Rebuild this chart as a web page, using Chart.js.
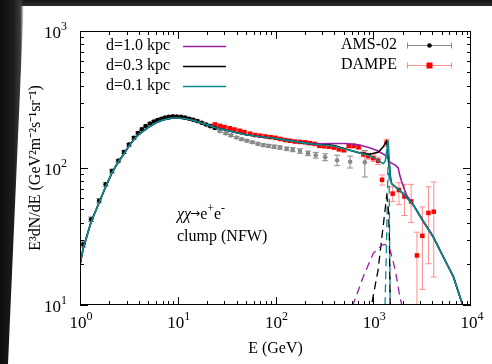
<!DOCTYPE html>
<html>
<head>
<meta charset="utf-8">
<script src="https://cdn.jsdelivr.net/npm/chart.js@4.4.1/dist/chart.umd.min.js"></script>
<style>
    html, body { margin: 0; background: #fff; }
    #wrap { position: relative; width: 492px; height: 364px; overflow: hidden; background: #fff; }
    #shadeTop { position: absolute; left: 0; top: 0; width: 492px; height: 6px; background: linear-gradient(#141414, #2b2b2b); }
    #shadeLeft { position: absolute; left: 0; top: 0; width: 24px; height: 364px;
        background: linear-gradient(90deg, #0e0e0e 0%, #1c1c1c 55%, #3c3c3c 85%, rgba(255,255,255,0) 100%);
        clip-path: polygon(0 0, 24px 0, 8px 364px, 0 364px); }
    canvas { position: absolute; left: 0; top: 0; }
</style>
</head>
<body>
<div id="wrap">
    <div id="shadeTop"></div>
    <div id="shadeLeft"></div>
    <canvas id="grafico" width="492" height="364"></canvas>
</div>
<script>
// Shared background part of the three model curves (E in GeV)
const lowE    = [1, 1.08, 1.3, 1.57, 1.83, 2.12, 2.47, 2.82, 3.17, 3.57, 4, 5, 6, 7, 8, 9, 10, 12, 15, 20, 25, 30, 40, 50, 70, 100, 150, 200];
const lowFlux = [19.6, 26, 40.5, 56, 73, 92, 111, 127, 145, 162, 176, 198, 214, 224, 229, 232, 232, 229, 221, 207, 196, 190, 181, 175, 169, 164, 157, 152];

// Tails of the total spectra
const d10E    = [250, 300, 350, 400, 530, 720, 900, 1090, 1250, 1370, 1490, 1680, 1800, 1870, 1960, 2080, 2200, 2560, 3270, 4100, 5200, 6600, 8100, 9000];
const d10Flux = [150, 150.5, 151, 151, 151, 147, 141, 134, 127, 122, 110, 105, 100, 88, 79, 70, 63, 54, 40.5, 31.5, 22.5, 16.1, 10.3, 8];
const d03E    = [250, 300, 350, 400, 530, 720, 920, 1120, 1260, 1370, 1400, 1450, 1500, 1540, 2030, 2560, 3270, 4100, 5200, 6600, 8100, 9000];
const d03Flux = [149, 148, 147, 146, 137, 129, 126, 130, 142, 157, 145, 110, 85, 77, 65, 54, 40.5, 31.5, 22.5, 16.1, 10.3, 8];
const d01E    = [250, 300, 350, 400, 500, 680, 850, 1000, 1170, 1270, 1330, 1380, 1420, 1450, 1500, 1540, 2030, 2560, 3270, 4100, 5200, 6600, 8100, 9000];
const d01Flux = [149, 147, 146, 144, 138, 131, 125, 120, 111, 108, 113, 135, 158, 120, 85, 77, 65, 54, 40.5, 31.5, 22.5, 16.1, 10.3, 8];

// Clump contributions (dashed)
const c10E    = [550, 620, 790, 1000, 1230, 1320, 1490, 1680, 1870, 1960, 2050];
const c10Flux = [8, 10, 16.1, 23.8, 27.4, 27.7, 25.2, 18, 11.5, 10, 8.8];
const c03E    = [900, 960, 1120, 1260, 1370, 1420, 1460, 1490, 1510];
const c03Flux = [8.5, 10, 18, 37, 62, 54, 33, 10, 8];
const c01E    = [1300, 1320, 1370, 1410, 1430, 1450, 1480, 1490, 1500];
const c01Flux = [8, 10, 30, 95, 140, 95, 20, 10, 8];

// AMS-02
const amsE    = [1.08, 1.3, 1.57, 1.83, 2.12, 2.47, 2.82, 3.17, 3.57, 3.92, 4.3, 4.7, 5.2, 5.7, 6.2, 6.8, 7.4, 8.1, 8.9, 9.8,
                 10.8, 11.9, 13.1, 14.4, 15.9, 17.6, 19.5, 21.6, 24, 27, 31, 35, 40, 45, 51, 58, 66, 75, 85,
                 97, 111, 130, 150, 178, 215, 258, 322, 427, 580, 820];
const amsFlux = [27.7, 42.3, 57.7, 76, 95, 113, 131, 148, 166, 180, 192, 202, 211, 218, 224, 229, 233, 236, 238, 237,
                 236, 233, 229, 225, 220, 214, 208, 202, 196, 186, 179, 173, 167, 162, 158, 154, 150, 147, 145,
                 143, 141, 138, 136, 133, 128, 124, 120, 114, 111, 110];
const amsErr  = [1.2, 1.6, 2, 2.5, 3, 3, 3.5, 3.5, 4, 4, 4, 4, 4, 4, 4, 4, 4, 4, 4, 4,
                 4, 4, 4, 4, 4, 4, 4, 4, 4, 3, 3, 3, 3, 3, 3, 3, 3, 3.5, 3.5,
                 4, 4, 4, 4.5, 5, 5, 6, 7, 10, 11, 24];

// DAMPE
const dampeE    = [24, 27, 30, 34, 38, 43, 48, 55, 62, 70, 79, 89, 100, 112, 126, 141, 158, 178, 200, 224,
                   251, 282, 316, 355, 398, 447, 501, 562, 631, 708, 794, 891, 1000, 1122, 1230, 1370, 1580, 1830, 2085, 2440,
                   2800, 3180, 3670, 4160];
const dampeFlux = [208, 203, 199, 195, 191, 187, 183, 178, 174, 172, 170, 168, 166, 163, 160, 158, 156, 155, 154, 152,
                   150, 145, 144, 143, 141, 137, 135, 145, 145, 142, 126, 122, 118, 113, 82, 153, 65, 69, 62, 57,
                   23, 32, 47, 48];
const dampeLo   = [3, 3, 3, 3, 3, 3, 3, 3, 3, 3, 3, 3, 3, 3, 3, 3, 3, 3, 3, 3,
                   3, 3, 3, 3, 3.5, 3.5, 4, 4.5, 5, 5, 5.5, 6, 6.5, 7, 7, 9, 8, 15, 17, 17,
                   20, 19, 27, 32];
const dampeHi   = [3, 3, 3, 3, 3, 3, 3, 3, 3, 3, 3, 3, 3, 3, 3, 3, 3, 3, 3, 3,
                   3, 3, 3, 3, 3.5, 3.5, 4, 4.5, 5, 5, 5.5, 6, 6.5, 7, 7, 9, 8, 9, 14, 19,
                   11, 20, 26, 31];

// Axis ticks (labels are 10^exponent)
const xTicks = [1, 10, 100, 1000, 10000];
const yTicks = [10, 100, 1000];

const PURPLE = '#9a1ea6';
const TEAL = '#0c8c8c';
const SERIF = '"Liberation Serif", "Times New Roman", serif';

function pts(xs, ys) {
    return xs.map((v, i) => ({x: v, y: ys[i]}));
}

// Draws "base" with a raised "sup" part, returns the end x
function supText(ctx, base, sup, x, y, size) {
    ctx.font = size + 'px ' + SERIF;
    ctx.fillText(base, x, y);
    x += ctx.measureText(base).width;
    ctx.font = Math.round(size * 0.72) + 'px ' + SERIF;
    ctx.fillText(sup, x, y - size * 0.45);
    return x + ctx.measureText(sup).width;
}

function supWidth(ctx, base, sup, size) {
    ctx.font = size + 'px ' + SERIF;
    let w = ctx.measureText(base).width;
    ctx.font = Math.round(size * 0.72) + 'px ' + SERIF;
    return w + ctx.measureText(sup).width;
}

// Error bars for the data sets
const errorBars = {
    id: 'errorBars',
    beforeDatasetsDraw(chart) {
        const {ctx, chartArea: a, scales: {x, y}} = chart;
        ctx.save();
        ctx.beginPath();
        ctx.rect(a.left, a.top, a.right - a.left, a.bottom - a.top);
        ctx.clip();
        ctx.lineWidth = 1;
        chart.data.datasets.forEach(ds => {
            if (!ds.errLo) return;
            ctx.strokeStyle = ds.errColor;
            ds.data.forEach((p, i) => {
                let px = x.getPixelForValue(p.x);
                let top = y.getPixelForValue(p.y + ds.errHi[i]);
                let bot = y.getPixelForValue(Math.max(p.y - ds.errLo[i], 1));
                ctx.beginPath();
                ctx.moveTo(px, top); ctx.lineTo(px, bot);
                ctx.moveTo(px - 3, top); ctx.lineTo(px + 3, top);
                ctx.moveTo(px - 3, bot); ctx.lineTo(px + 3, bot);
                ctx.stroke();
            });
        });
        ctx.restore();
    }
};

// Frame with inward ticks on all four sides, plus the tick labels
const frame = {
    id: 'frame',
    afterDatasetsDraw(chart) {
        const {ctx, chartArea: a, scales: {x, y}} = chart;
        ctx.save();
        ctx.strokeStyle = '#000';
        ctx.lineWidth = 1;
        ctx.beginPath();
        for (let d = 0; d < 4; d++) {
            for (let k = 1; k < 10; k++) {
                let px = Math.round(x.getPixelForValue(k * Math.pow(10, d))) + 0.5;
                let len = k === 1 ? 8 : 4;
                ctx.moveTo(px, a.bottom); ctx.lineTo(px, a.bottom - len);
                ctx.moveTo(px, a.top); ctx.lineTo(px, a.top + len);
            }
        }
        for (let d = 1; d < 3; d++) {
            for (let k = 1; k < 10; k++) {
                let py = Math.round(y.getPixelForValue(k * Math.pow(10, d))) + 0.5;
                let len = k === 1 ? 8 : 4;
                ctx.moveTo(a.left, py); ctx.lineTo(a.left + len, py);
                ctx.moveTo(a.right, py); ctx.lineTo(a.right - len, py);
            }
        }
        ctx.stroke();
        ctx.strokeRect(Math.round(a.left) + 0.5, Math.round(a.top) + 0.5, Math.round(a.right - a.left) - 1, Math.round(a.bottom - a.top) - 1);

        ctx.fillStyle = '#000';
        ctx.textAlign = 'left';
        ctx.textBaseline = 'alphabetic';
        x.ticks.forEach(t => {
            let e = String(Math.round(Math.log10(t.value)));
            let w = supWidth(ctx, '10', e, 17);
            supText(ctx, '10', e, x.getPixelForValue(t.value) - w / 2 + 1, a.bottom + 23, 17);
        });
        y.ticks.forEach(t => {
            let e = String(Math.round(Math.log10(t.value)));
            let w = supWidth(ctx, '10', e, 17);
            supText(ctx, '10', e, a.left - 13 - w, y.getPixelForValue(t.value) + 7, 17);
        });
        ctx.restore();
    }
};

// Legend blocks and the annotation text
const keys = {
    id: 'keys',
    afterDraw(chart) {
        const {ctx} = chart;
        ctx.save();
        ctx.font = '16px ' + SERIF;
        ctx.fillStyle = '#000';
        ctx.textBaseline = 'middle';
        let row = 0;
        chart.data.datasets.forEach(ds => {
            if (ds.key !== 'line') return;
            let yy = 46 + row * 20;
            ctx.textAlign = 'left';
            ctx.fillText(ds.label, 106, yy);
            ctx.strokeStyle = ds.borderColor;
            ctx.lineWidth = 1.5;
            ctx.beginPath();
            ctx.moveTo(183, yy + 0.5); ctx.lineTo(226, yy + 0.5);
            ctx.stroke();
            row++;
        });
        row = 0;
        chart.data.datasets.forEach(ds => {
            if (ds.key !== 'data') return;
            let yy = 45 + row * 20;
            ctx.textAlign = 'right';
            ctx.fillStyle = '#000';
            ctx.fillText(ds.label, 397, yy);
            ctx.strokeStyle = ds.errColor;
            ctx.lineWidth = 1;
            ctx.beginPath();
            ctx.moveTo(407, yy + 0.5); ctx.lineTo(452, yy + 0.5);
            ctx.moveTo(407.5, yy - 2.5); ctx.lineTo(407.5, yy + 3.5);
            ctx.moveTo(451.5, yy - 2.5); ctx.lineTo(451.5, yy + 3.5);
            ctx.stroke();
            ctx.fillStyle = ds.keyColor;
            if (ds.pointStyle === 'rect') {
                ctx.fillRect(426.5, yy - 2.5, 6, 6);
            } else {
                ctx.beginPath();
                ctx.arc(429.5, yy + 0.5, 2.3, 0, Math.PI * 2);
                ctx.fill();
            }
            row++;
        });

        // χχ→e+e- / clump (NFW)
        ctx.fillStyle = '#000';
        ctx.textAlign = 'left';
        ctx.textBaseline = 'alphabetic';
        ctx.font = 'italic 16px ' + SERIF;
        ctx.fillText('χχ', 177, 219);
        let cx = 177 + ctx.measureText('χχ').width;
        ctx.font = '12px "DejaVu Sans"';
        let aw = ctx.measureText('→').width;
        ctx.fillText('→', cx - 1, 217);
        cx += aw - 1;
        cx = supText(ctx, 'e', '+', cx, 219, 16);
        supText(ctx, 'e', '-', cx, 219, 16);
        ctx.font = '16px ' + SERIF;
        ctx.fillText('clump (NFW)', 177, 241);
        ctx.restore();
    }
};

function lineSet(label, xs, ys, color, dashed, order) {
    return {
        label: label,
        data: pts(xs, ys),
        borderColor: color,
        borderWidth: dashed ? 1.3 : 1.6,
        borderDash: dashed ? [8, 5] : [],
        pointRadius: 0,
        tension: 0,
        fill: false,
        order: order,
        key: dashed ? null : 'line'
    };
}

Chart.defaults.font.family = SERIF;
Chart.defaults.font.size = 16;
Chart.defaults.color = '#000';

let amsColors = amsE.map(e => e < 25 ? '#000000' : '#8a8a8a');

let grafico = new Chart(document.getElementById('grafico'), {
    type: 'line',
    data: {
        datasets: [
            lineSet('d=1.0 kpc', lowE.concat(d10E), lowFlux.concat(d10Flux), PURPLE, false, 3),
            lineSet('d=0.3 kpc', lowE.concat(d03E), lowFlux.concat(d03Flux), '#000000', false, 2),
            lineSet('d=0.1 kpc', lowE.concat(d01E), lowFlux.concat(d01Flux), TEAL, false, 1),
            lineSet('clump d=1.0', c10E, c10Flux, PURPLE, true, 4),
            lineSet('clump d=0.3', c03E, c03Flux, '#000000', true, 4),
            lineSet('clump d=0.1', c01E, c01Flux, TEAL, true, 4),
            {
                label: 'AMS-02',
                data: pts(amsE, amsFlux),
                showLine: false,
                pointStyle: 'circle',
                pointRadius: 2.3,
                pointBorderWidth: 0,
                pointBackgroundColor: amsColors,
                errLo: amsErr,
                errHi: amsErr,
                errColor: '#8a8a8a',
                keyColor: '#000000',
                order: 5,
                key: 'data'
            },
            {
                label: 'DAMPE',
                data: pts(dampeE, dampeFlux),
                showLine: false,
                pointStyle: 'rect',
                pointRadius: 3.2,
                pointBorderWidth: 0,
                pointBackgroundColor: '#ff0000',
                errLo: dampeLo,
                errHi: dampeHi,
                errColor: '#ff8c8c',
                keyColor: '#ff0000',
                order: 5,
                key: 'data'
            }
        ]
    },
    options: {
        responsive: true,
        maintainAspectRatio: false,
        animation: false,
        layout: {
            padding: {left: 0, top: 31, right: 21, bottom: 0}
        },
        plugins: {
            legend: {display: false},
            tooltip: {enabled: false}
        },
        scales: {
            x: {
                type: 'logarithmic',
                min: 1,
                max: 10000,
                grid: {display: false, drawTicks: false},
                border: {display: false},
                afterBuildTicks: s => { s.ticks = xTicks.map(v => ({value: v})); },
                afterFit: s => { s.height = 59; },
                ticks: {display: false, autoSkip: false},
                title: {
                    display: true,
                    text: 'E (GeV)',
                    padding: {top: 0, bottom: 6}
                }
            },
            y: {
                type: 'logarithmic',
                min: 10,
                max: 1000,
                grid: {display: false, drawTicks: false},
                border: {display: false},
                afterBuildTicks: s => { s.ticks = yTicks.map(v => ({value: v})); },
                afterFit: s => { s.width = 80; },
                ticks: {display: false, autoSkip: false},
                title: {
                    display: true,
                    text: 'E³dN/dE (GeV²m⁻²s⁻¹sr⁻¹)',
                    padding: {top: 26, bottom: 0}
                }
            }
        }
    },
    plugins: [errorBars, frame, keys]
});
</script>
</body>
</html>
